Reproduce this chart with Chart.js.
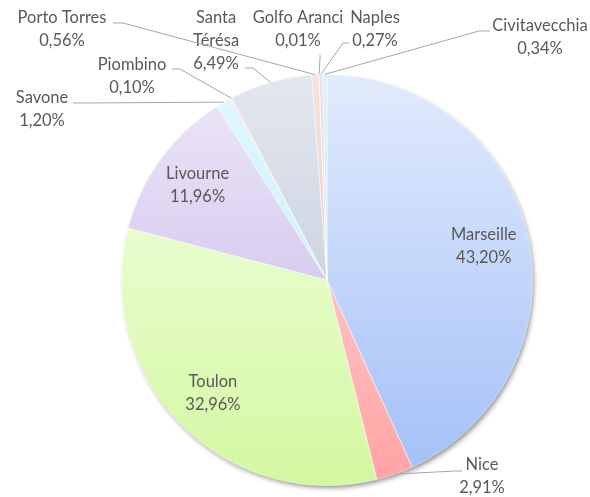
<!DOCTYPE html>
<html>
<head>
<meta charset="utf-8">
<script src="https://cdn.jsdelivr.net/npm/chart.js@4.4.1/dist/chart.umd.min.js"></script>
<style>
  html, body { margin: 0; background: #fff; }
</style>
</head>
<body>
<canvas id="c" width="590" height="497"></canvas>
<script>
// Répartition des passagers par port — pie, starts at 12 o'clock, clockwise.
const ports = ["Marseille", "Nice", "Toulon", "Livourne", "Savone", "Piombino",
               "Santa Térésa", "Porto Torres", "Golfo Aranci", "Naples", "Civitavecchia"];
const shares = [43.20, 2.91, 32.96, 11.96, 1.20, 0.10, 6.49, 0.56, 0.01, 0.27, 0.34];
// how each port name is broken over lines in the labels
const nameLines = [["Marseille"], ["Nice"], ["Toulon"], ["Livourne"], ["Savone"], ["Piombino"],
                   ["Santa", "Térésa"], ["Porto Torres"], ["Golfo Aranci"], ["Naples"], ["Civitavecchia"]];

// gradient fill per slice: light at top of the pie, fuller colour at the bottom
const topColors = ["#e2ebfd", "#ffe2e2", "#f6ffea", "#eee8f8", "#e2f8fe", "#fbe3cc",
                   "#e3e7ef", "#f5e2de", "#e4efd8", "#e8e4f3", "#e2f2f5"];
const botColors = ["#a2bff7", "#ffa3a3", "#d3f8a0", "#c2b1e5", "#b6eafa", "#f5c79a",
                   "#b9c3d5", "#e2b9b1", "#c8dcb4", "#cbc4e4", "#c3e3ea"];

// Outside labels (Excel-placed): text centre of first line + leader start / elbow.
// Leader then runs to the slice's outer edge at its mid angle.
const outside = {
  1:  { x: 482, y: 465, lead: [462, 471, 455, 471] },
  4:  { x: 42,  y: 98,  lead: [73, 103, 83, 103] },
  5:  { x: 132, y: 65,  lead: [172, 69, 180, 69] },
  6:  { x: 216, y: 18,  lead: [245, 68, 253, 68] },
  7:  { x: 62,  y: 18,  lead: [113, 23, 123, 23] },
  8:  { x: 298, y: 18,  lead: [320, 55, 320, 58] },
  9:  { x: 375, y: 18,  lead: [349, 43, 343, 43] },
  10: { x: 540, y: 26,  lead: [490, 31, 479, 31] },
};

const FONT = "16.5px Lato";
const TEXT = "#595959";
const LINE_H = 23;

const fmt = (v) => v.toFixed(2).replace(".", ",") + "%";

const shadowPlugin = {
  id: "pieShadow",
  beforeDatasetsDraw(chart) {
    const arc = chart.getDatasetMeta(0).data[0];
    if (!arc) return;
    const { x, y, outerRadius } = arc.getProps(["x", "y", "outerRadius"], true);
    const ctx = chart.ctx;
    ctx.save();
    ctx.shadowColor = "rgba(0,0,0,0.45)";
    ctx.shadowBlur = 5;
    ctx.shadowOffsetX = 2;
    ctx.shadowOffsetY = 3;
    ctx.fillStyle = "#ffffff";
    ctx.beginPath();
    ctx.arc(x, y, outerRadius - 1, 0, Math.PI * 2);
    ctx.fill();
    ctx.restore();
  },
};

const labelPlugin = {
  id: "sliceLabels",
  afterDatasetsDraw(chart) {
    const ctx = chart.ctx;
    const meta = chart.getDatasetMeta(0);
    ctx.save();
    ctx.font = FONT;
    ctx.fillStyle = TEXT;
    ctx.textAlign = "center";
    ctx.textBaseline = "middle";
    meta.data.forEach((arc, i) => {
      const { x, y, startAngle, endAngle, outerRadius } =
        arc.getProps(["x", "y", "startAngle", "endAngle", "outerRadius"], true);
      const mid = (startAngle + endAngle) / 2;
      const lines = nameLines[i].concat(fmt(shares[i]));
      const place = outside[i];
      if (!place) {
        const r = outerRadius * 0.78;
        const cx = x + Math.cos(mid) * r;
        const cy = y + Math.sin(mid) * r - (lines.length - 1) * LINE_H / 2;
        lines.forEach((t, k) => ctx.fillText(t, cx, cy + k * LINE_H));
        return;
      }
      const ax = x + Math.cos(mid) * outerRadius;
      const ay = y + Math.sin(mid) * outerRadius;
      ctx.strokeStyle = "#a6a6a6";
      ctx.lineWidth = 1;
      ctx.beginPath();
      ctx.moveTo(place.lead[0], place.lead[1]);
      ctx.lineTo(place.lead[2], place.lead[3]);
      ctx.lineTo(ax, ay);
      ctx.stroke();
      lines.forEach((t, k) => ctx.fillText(t, place.x, place.y + k * LINE_H));
    });
    ctx.restore();
  },
};

function sliceFill(c) {
  const i = c.dataIndex;
  const area = c.chart.chartArea;
  if (!area) return botColors[i];
  const g = c.chart.ctx.createLinearGradient(0, area.top, 0, area.bottom);
  g.addColorStop(0, topColors[i]);
  g.addColorStop(1, botColors[i]);
  return g;
}

new Chart(document.getElementById("c"), {
  type: "pie",
  data: {
    labels: ports,
    datasets: [{
      data: shares,
      backgroundColor: sliceFill,
      borderColor: "rgba(255,255,255,0.6)",
      borderWidth: 0.75,
    }],
  },
  options: {
    responsive: false,
    animation: false,
    devicePixelRatio: 1,
    layout: { padding: { top: 74, bottom: 11, left: 121, right: 57 } },
    plugins: { legend: { display: false }, tooltip: { enabled: false } },
  },
  plugins: [shadowPlugin, labelPlugin],
});
</script>
</body>
</html>
